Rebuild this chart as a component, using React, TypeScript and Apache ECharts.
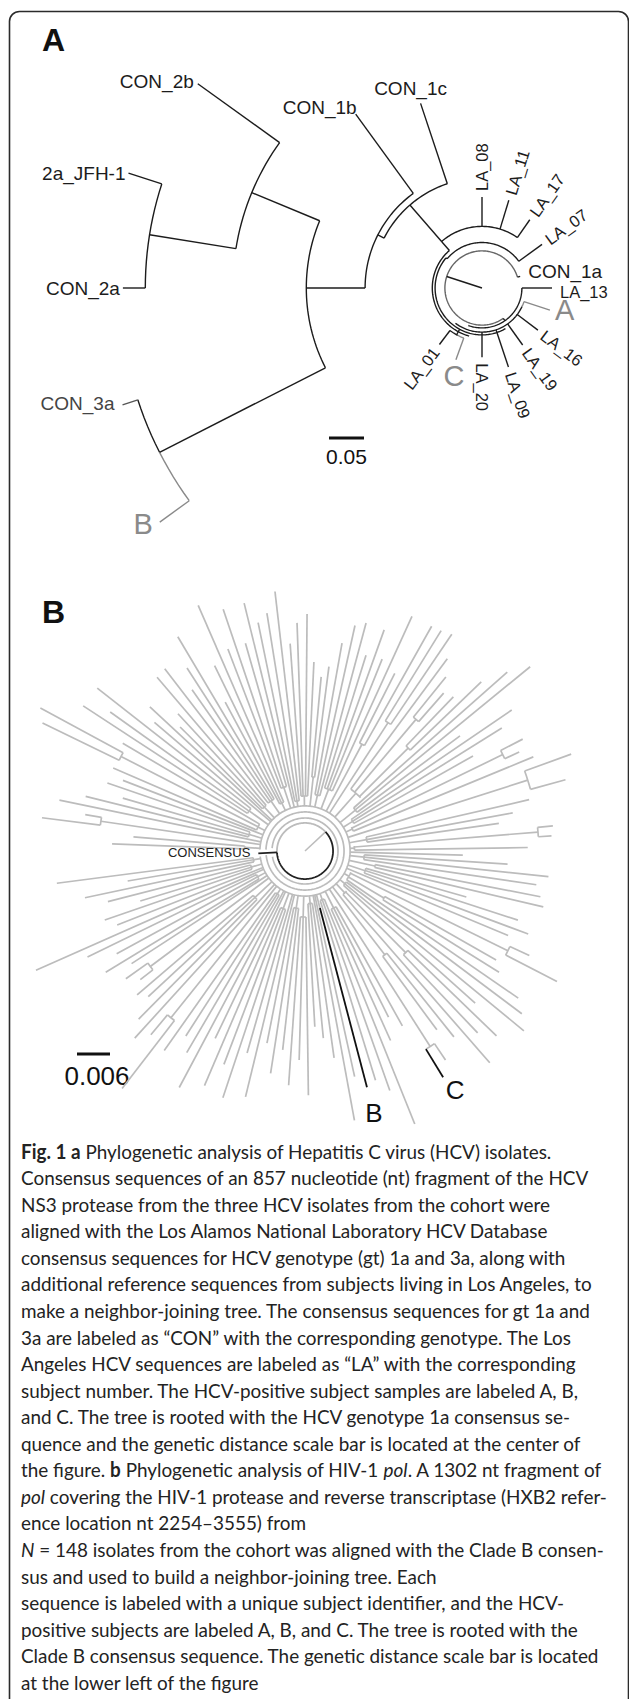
import { useEffect, useRef } from 'react';
import * as echarts from 'echarts';

const W = 629;
const H = 1699;
const FONT = '"Liberation Sans", Arial, sans-serif';
const CAP_FONT = 'Lato, "Open Sans", sans-serif';

// ---------------- Panel A : HCV NS3 tree (distance in substitutions/site, angle in degrees) -------------
const hcvLeafNames = ['CON_1a', 'LA_13', 'A', 'LA_16', 'LA_19', 'LA_09', 'LA_20', 'C', 'LA_01', 'CON_1c', 'CON_1b', 'CON_2b', '2a_JFH-1', 'CON_2a', 'CON_3a', 'B', 'LA_07', 'LA_17', 'LA_11', 'LA_08'];
const hcvLeafAngles = [17, 0, 342, 323, 305.5, 288.5, 270, 250, 233, 108.4, 126, 144.3, 162, 180, 198, 216, 36, 55, 73, 90];
const hcvLeafBase = [0.053, 0.057, 0.063, 0.063, 0.063, 0.063, 0.063, 0.076, 0.076, 0.157, 0.167, 0.356, 0.481, 0.481, 0.517, 0.517, 0.065, 0.088, 0.088, 0.088];
const hcvLeafTip = [0.057, 0.100, 0.102, 0.100, 0.100, 0.119, 0.099, 0.109, 0.101, 0.278, 0.307, 0.500, 0.531, 0.513, 0.540, 0.569, 0.106, 0.119, 0.131, 0.130];
// internal branches [angle, from, to]
const hcvInnerBranches = [
  [162, 0, 0.053], [305, 0.053, 0.057], [241.5, 0.067, 0.076], [140, 0.065, 0.067],
  [131, 0.071, 0.157], [153, 0.157, 0.167], [180, 0.167, 0.251], [157.5, 0.251, 0.356],
  [170.9, 0.356, 0.481], [207, 0.251, 0.517],
];
// internal arcs [distance, fromAngle, toAngle]
const hcvArcs = [
  [0.057, 250, 360], [0.063, 233, 335], [0.067, 140, 300], [0.071, 131, 255], [0.076, 233, 243],
  [0.065, 36, 140], [0.088, 55, 131], [0.157, 108.4, 153], [0.167, 126, 180], [0.251, 157.5, 207],
  [0.356, 144.3, 170.9], [0.481, 162, 180], [0.517, 198, 207],
];
const hcvGrayArcs = [[0.517, 207, 216], [0.063, 335, 342], [0.076, 243, 250]];
const hcvRootCircle = [0.053, 17, 305];
const hcvScale = 0.05;

// ---------------- Panel B : HIV-1 pol tree (distance x 1e-3 substitutions/site) -------------
const hivLeaves = [
  [0.9, 40.5], [3.5, 44.9], [5.8, 45.3], [8.1, 35.6], [10.4, 38.4], [12.9, 41.8], [15.3, 49.1], [20.0, 51.5],
  [22.4, 44.9], [24.8, 42.9], [27.2, 44.5], [29.5, 35.1], [32.0, 42.2], [34.3, 45.5], [36.6, 35.1], [39.3, 52.9],
  [41.5, 49.1], [43.8, 44.4], [46.1, 38.9], [48.7, 38.2], [51.0, 40.7], [53.5, 43.5], [55.9, 47.6], [58.3, 47.1],
  [60.6, 46.9], [63.2, 36.2], [65.5, 46.9], [68.1, 37.6], [70.3, 42.7], [72.7, 37.3], [75.0, 42.9], [77.5, 42.0],
  [79.9, 38.4], [82.6, 33.8], [84.7, 31.8], [87.3, 34.4], [89.5, 43.1], [92.0, 41.5], [94.1, 37.8], [96.6, 47.5],
  [99.1, 43.8], [101.6, 42.4], [103.8, 46.4], [106.0, 39.3], [108.7, 46.4], [110.9, 39.3], [113.5, 48.7], [116.0, 37.5],
  [118.2, 30.7], [120.7, 45.3], [122.8, 39.6], [125.0, 35.8], [127.6, 41.8], [130.4, 41.5], [132.8, 34.0], [135.2, 32.0],
  [137.1, 38.5], [139.5, 36.0], [141.9, 48.0], [144.5, 43.5], [146.8, 48.2], [149.4, 38.5], [151.6, 54.7], [154.0, 53.1],
  [156.6, 38.0], [158.8, 35.5], [161.0, 38.0], [163.8, 34.5], [166.0, 41.1], [168.3, 45.6], [170.6, 40.5], [172.8, 48.2],
  [175.3, 31.3], [177.9, 35.1], [187.4, 45.5], [189.6, 32.7], [192.0, 40.9], [194.4, 37.0], [196.9, 31.3], [199.0, 38.5],
  [201.5, 36.7], [203.9, 53.5], [206.0, 44.0], [208.6, 39.0], [211.3, 42.4], [213.0, 37.6], [215.5, 40.0], [218.0, 38.0],
  [220.6, 40.2], [222.9, 38.9], [225.3, 43.0], [227.7, 46.0], [230.0, 43.6], [232.4, 54.5], [234.8, 44.4], [237.2, 40.0],
  [239.6, 42.5], [242.0, 48.7], [244.4, 37.8], [246.8, 46.4], [249.2, 41.5], [251.6, 47.3], [254.0, 38.2], [256.4, 46.0],
  [258.8, 35.6], [261.2, 40.9], [263.6, 36.4], [266.0, 42.7], [268.4, 38.0], [270.8, 44.4], [273.2, 32.0], [275.6, 34.2],
  [278.0, 38.0], [280.4, 49.8], [282.4, 42.0], [287.1, 43.6], [289.5, 46.2], [291.9, 53.5], [294.3, 37.8], [296.7, 33.8],
  [299.1, 36.4], [303.9, 45.8], [306.4, 40.4], [308.7, 43.3], [311.1, 51.1], [313.5, 45.6], [316.0, 48.4], [318.2, 41.5],
  [320.6, 51.5], [323.1, 49.3], [325.4, 47.1], [328.0, 41.6], [330.3, 40.0], [332.6, 51.6], [335.0, 45.0], [337.4, 40.0],
  [339.6, 43.3], [342.0, 40.7], [344.1, 30.5], [346.8, 44.5], [349.0, 43.6], [351.7, 42.5], [354.0, 44.5], [356.3, 36.9],
  [358.5, 28.7],
];
// internal nodes [fromAngle, toAngle, node distance]
const hivClades = [
  [3.5, 5.8, 42.5], [15.3, 20.0, 42.5], [24.8, 27.2, 40.0], [43.8, 46.1, 26.5], [48.7, 51.0, 31.3],
  [55.9, 58.3, 27.8], [60.6, 63.2, 22.0], [151.6, 154.0, 37.6], [170.6, 172.8, 37.5], [215.5, 218.0, 35.1],
  [230.0, 232.4, 38.9], [301.4, 303.9, 42.2], [306.4, 308.7, 23.8], [313.5, 316.0, 26.0], [328.0, 330.3, 16.7],
  [332.6, 335.0, 41.1],
  [87.3, 94.1, 10.0], [96.6, 101.6, 9.2], [120.7, 127.6, 11.0], [141.9, 146.8, 12.5], [187.4, 192.0, 9.5],
  [258.8, 263.6, 10.5], [339.6, 344.1, 11.5], [65.5, 72.7, 12.0], [29.5, 34.3, 10.2], [206.0, 211.3, 9.8],
  [246.8, 251.6, 11.2], [318.2, 323.1, 9.4], [351.7, 356.3, 10.8], [106.0, 110.9, 12.2], [161.0, 166.0, 10.6],
  [273.2, 278.0, 9.6],
  [0.9, 5.8, 9.0], [8.1, 12.9, 11.4], [22.4, 27.2, 9.5], [36.6, 41.5, 11.8], [43.8, 53.5, 14.0],
  [75.0, 79.9, 10.4], [82.6, 84.7, 13.5], [113.5, 118.2, 9.7], [130.4, 135.2, 10.9], [149.4, 156.6, 9.6],
  [175.3, 177.9, 11.0], [194.4, 199.0, 10.2], [220.6, 225.3, 12.4], [234.8, 239.6, 9.3], [266.0, 270.8, 12.0],
  [287.1, 291.9, 9.4], [294.3, 299.1, 11.6], [311.1, 316.0, 10.5], [325.4, 335.0, 9.2], [346.8, 349.0, 13.0],
];
const hivRingArcs = [[6.0, 190, 535], [7.1, 186, 538], [8.2, 187, 538]];
const hivRingBase = 8.2;
const hivRoot = [43, 5.1]; // root branch angle, root node distance
const hivConsensus = [183, 8.5];
const hivB = [284.7, 10.7, 44.4];
const hivC = [301.4, 48.2];
const hivScale = 6;

const captionLines = [
  '{b|Fig. 1 a} Phylogenetic analysis of Hepatitis C virus (HCV) isolates.',
  'Consensus sequences of an 857 nucleotide (nt) fragment of the HCV',
  'NS3 protease from the three HCV isolates from the cohort were',
  'aligned with the Los Alamos National Laboratory HCV Database',
  'consensus sequences for HCV genotype (gt) 1a and 3a, along with',
  'additional reference sequences from subjects living in Los Angeles, to',
  'make a neighbor-joining tree. The consensus sequences for gt 1a and',
  '3a are labeled as \u201cCON\u201d with the corresponding genotype. The Los',
  'Angeles HCV sequences are labeled as \u201cLA\u201d with the corresponding',
  'subject number. The HCV-positive subject samples are labeled A, B,',
  'and C. The tree is rooted with the HCV genotype 1a consensus se-',
  'quence and the genetic distance scale bar is located at the center of',
  'the figure. {b|b} Phylogenetic analysis of HIV-1 {i|pol}. A 1302 nt fragment of',
  '{i|pol} covering the HIV-1 protease and reverse transcriptase (HXB2 refer-',
  'ence location nt 2254\u20133555) from',
  '{i|N} = 148 isolates from the cohort was aligned with the Clade B consen-',
  'sus and used to build a neighbor-joining tree. Each',
  'sequence is labeled with a unique subject identifier, and the HCV-',
  'positive subjects are labeled A, B, and C. The tree is rooted with the',
  'Clade B consensus sequence. The genetic distance scale bar is located',
  'at the lower left of the figure',
];

// ---------------- styling ----------------
const DARK = '#1c1c1c';
const MID = '#8a8a8a';
const LIGHT = '#bcbcbc';
const HCV_POLAR = { center: [482, 288], radius: 420, max: 0.6 };
const HIV_POLAR = { center: [305, 851], radius: 330, max: 60 };
const CAP_SCALE_X = 0.945;

type LabelSpec = { mode: 'radial' | 'h'; align?: string; dx?: number; dy?: number; size?: number; color?: string };
const hcvLabelSpec: Record<string, LabelSpec> = {
  CON_1a: { mode: 'h', align: 'left', dx: 8, dy: -5, size: 19 },
  LA_13: { mode: 'h', align: 'left', dx: 8, dy: 4, size: 16.5 },
  A: { mode: 'h', align: 'left', dx: 5, dy: 0, size: 29, color: MID },
  C: { mode: 'h', align: 'center', dx: -2, dy: 16, size: 29, color: MID },
  CON_1c: { mode: 'h', align: 'center', dx: -10, dy: -15, size: 19 },
  CON_1b: { mode: 'h', align: 'right', dx: 1, dy: -7, size: 19 },
  CON_2b: { mode: 'h', align: 'right', dx: -4, dy: -2, size: 19 },
  '2a_JFH-1': { mode: 'h', align: 'right', dx: -3, dy: 0, size: 19 },
  CON_2a: { mode: 'h', align: 'right', dx: -3, dy: 0, size: 19 },
  CON_3a: { mode: 'h', align: 'right', dx: -8, dy: -1, size: 19, color: '#444' },
  B: { mode: 'h', align: 'right', dx: -7, dy: 2, size: 29, color: MID },
};
const hcvLeafColor: Record<string, string> = { A: MID, B: MID, C: MID, CON_3a: '#555' };

type Item =
  | { kind: 'seg'; a: number; r0: number; r1: number; color: string; w: number }
  | { kind: 'arc'; r: number; a0: number; a1: number; color: string; w: number }
  | { kind: 'label'; a: number; r: number; text: string; spec: LabelSpec; color: string };

const norm = (a: number) => ((a % 360) + 360) % 360;

function renderer(items: Item[]) {
  return (params: any, api: any) => {
    const it = items[params.dataIndex];
    if (it.kind === 'seg') {
      const p0 = api.coord([it.r0, norm(it.a)]);
      const p1 = api.coord([it.r1, norm(it.a)]);
      return {
        type: 'line',
        shape: { x1: p0[0], y1: p0[1], x2: p1[0], y2: p1[1] },
        style: { stroke: it.color, lineWidth: it.w, fill: null },
        silent: true,
      };
    }
    if (it.kind === 'arc') {
      const n = Math.max(2, Math.ceil(Math.abs(it.a1 - it.a0) / 1.5));
      const pts: number[][] = [];
      for (let i = 0; i <= n; i++) {
        const a = it.a0 + ((it.a1 - it.a0) * i) / n;
        pts.push(api.coord([it.r, norm(a)]));
      }
      return {
        type: 'polyline',
        shape: { points: pts },
        style: { stroke: it.color, lineWidth: it.w, fill: null },
        silent: true,
      };
    }
    const spec = it.spec;
    const tip = api.coord([it.r, norm(it.a)]);
    const size = spec.size || 16.5;
    if (spec.mode === 'radial') {
      const rad = (it.a * Math.PI) / 180;
      const off = 6;
      const x = tip[0] + off * Math.cos(rad);
      const y = tip[1] - off * Math.sin(rad);
      const right = Math.cos(rad) > -1e-6;
      return {
        type: 'text',
        x,
        y,
        rotation: right ? rad : rad - Math.PI,
        style: {
          text: it.text, fill: it.color, fontSize: size, fontFamily: FONT,
          align: right ? 'left' : 'right', verticalAlign: 'middle',
        },
        silent: true,
      };
    }
    return {
      type: 'text',
      x: tip[0] + (spec.dx || 0),
      y: tip[1] + (spec.dy || 0),
      style: {
        text: it.text, fill: it.color, fontSize: size, fontFamily: FONT,
        align: spec.align || 'left', verticalAlign: 'middle',
      },
      silent: true,
    };
  };
}

function hcvItems(): Item[] {
  const items: Item[] = [];
  const w = 1.4;
  items.push({ kind: 'arc', r: hcvRootCircle[0], a0: hcvRootCircle[1], a1: hcvRootCircle[2], color: '#666', w });
  hcvArcs.forEach((a) => items.push({ kind: 'arc', r: a[0], a0: a[1], a1: a[2], color: DARK, w }));
  hcvGrayArcs.forEach((a) => items.push({ kind: 'arc', r: a[0], a0: a[1], a1: a[2], color: MID, w }));
  hcvInnerBranches.forEach((b) => items.push({ kind: 'seg', a: b[0], r0: b[1], r1: b[2], color: DARK, w }));
  hcvLeafNames.forEach((name, i) => {
    const color = hcvLeafColor[name] || DARK;
    items.push({ kind: 'seg', a: hcvLeafAngles[i], r0: hcvLeafBase[i], r1: hcvLeafTip[i], color, w });
    const spec = hcvLabelSpec[name] || { mode: 'radial', size: 16.5 };
    items.push({ kind: 'label', a: hcvLeafAngles[i], r: hcvLeafTip[i], text: name, spec, color: hcvLeafColor[name] === MID ? MID : name === 'CON_3a' ? '#444' : DARK });
  });
  return items;
}

function hivItems(): Item[] {
  const items: Item[] = [];
  const w = 1.7;
  hivRingArcs.forEach((a) => items.push({ kind: 'arc', r: a[0], a0: a[1], a1: a[2], color: LIGHT, w }));
  // root
  items.push({ kind: 'seg', a: hivRoot[0], r0: 0, r1: hivRoot[1], color: LIGHT, w: 1.5 });
  items.push({ kind: 'arc', r: hivRoot[1], a0: hivRoot[0], a1: hivConsensus[0], color: LIGHT, w: 1.8 });
  items.push({ kind: 'arc', r: hivRoot[1], a0: hivConsensus[0], a1: hivRoot[0] + 360, color: '#222', w: 1.8 });
  items.push({ kind: 'seg', a: hivConsensus[0], r0: hivRoot[1], r1: hivConsensus[1], color: '#222', w: 1.8 });
  const eps = 0.01;
  const baseOf = (ang: number) => {
    let b = hivRingBase;
    hivClades.forEach((c) => {
      if (ang >= c[0] - eps && ang <= c[1] + eps && c[2] > b) b = c[2];
    });
    return b;
  };
  hivClades.forEach((c) => {
    let parent = hivRingBase;
    hivClades.forEach((o) => {
      if (o !== c && o[0] <= c[0] + eps && o[1] >= c[1] - eps && o[2] < c[2] && o[2] > parent) parent = o[2];
    });
    const mid = (c[0] + c[1]) / 2;
    items.push({ kind: 'seg', a: mid, r0: parent, r1: c[2], color: LIGHT, w });
    items.push({ kind: 'arc', r: c[2], a0: c[0], a1: c[1], color: LIGHT, w });
  });
  hivLeaves.forEach((l) => items.push({ kind: 'seg', a: l[0], r0: baseOf(l[0]), r1: l[1], color: LIGHT, w }));
  // B
  items.push({ kind: 'seg', a: hivB[0], r0: hivRingBase, r1: hivB[1], color: LIGHT, w });
  items.push({ kind: 'seg', a: hivB[0], r0: hivB[1], r1: hivB[2], color: '#111', w: 1.8 });
  items.push({ kind: 'label', a: hivB[0], r: hivB[2], text: 'B', spec: { mode: 'h', align: 'center', dx: 7, dy: 26, size: 26 }, color: '#111' });
  // C
  items.push({ kind: 'seg', a: hivC[0], r0: baseOf(hivC[0]), r1: hivC[1], color: '#111', w: 1.8 });
  items.push({ kind: 'label', a: hivC[0], r: hivC[1], text: 'C', spec: { mode: 'h', align: 'center', dx: 12, dy: 13, size: 26 }, color: '#111' });
  items.push({ kind: 'label', a: hivConsensus[0], r: hivConsensus[1], text: 'CONSENSUS', spec: { mode: 'h', align: 'right', dx: -8, dy: -1, size: 13 }, color: '#222' });
  return items;
}

function buildOption() {
  const hcv = hcvItems();
  const hiv = hivItems();
  const hcvPxPerUnit = HCV_POLAR.radius / HCV_POLAR.max;
  const hivPxPerUnit = HIV_POLAR.radius / HIV_POLAR.max;
  const capRich = {
    b: { fontWeight: 'bold', fontSize: 20, fontFamily: CAP_FONT, fill: '#232323' },
    i: { fontStyle: 'italic', fontSize: 20, fontFamily: CAP_FONT, fill: '#232323' },
  };
  const graphic: any[] = [
    {
      type: 'rect', shape: { x: 9.5, y: 11.5, width: 619, height: 1740, r: 10 },
      style: { fill: 'none', stroke: '#2b2b2b', lineWidth: 1.6 }, silent: true,
    },
    { type: 'text', x: 42, y: 40, style: { text: 'A', fontSize: 32, fontWeight: 'bold', fontFamily: FONT, fill: '#111', verticalAlign: 'middle' } },
    { type: 'text', x: 42, y: 612, style: { text: 'B', fontSize: 32, fontWeight: 'bold', fontFamily: FONT, fill: '#111', verticalAlign: 'middle' } },
    { type: 'line', shape: { x1: 329, y1: 438, x2: 329 + hcvScale * hcvPxPerUnit, y2: 438 }, style: { stroke: '#111', lineWidth: 3 } },
    { type: 'text', x: 329 + (hcvScale * hcvPxPerUnit) / 2, y: 456, style: { text: '0.05', fontSize: 21, fontFamily: FONT, fill: '#111', align: 'center', verticalAlign: 'middle' } },
    { type: 'line', shape: { x1: 77, y1: 1054, x2: 77 + hivScale * hivPxPerUnit, y2: 1054 }, style: { stroke: '#111', lineWidth: 3 } },
    { type: 'text', x: 97, y: 1076, style: { text: '0.006', fontSize: 26, fontFamily: FONT, fill: '#111', align: 'center', verticalAlign: 'middle' } },
  ];
  captionLines.forEach((t, i) => {
    graphic.push({
      type: 'text', x: 21, y: 1151 + i * 26.55, scaleX: CAP_SCALE_X, originX: 0, originY: 0,
      style: { text: t, rich: capRich, fontSize: 20, fontFamily: CAP_FONT, fill: '#232323', verticalAlign: 'middle', align: 'left' },
      silent: true,
    });
  });
  const axisOff = { show: false, axisLine: { show: false }, axisTick: { show: false }, axisLabel: { show: false }, splitLine: { show: false } };
  return {
    animation: false,
    backgroundColor: '#ffffff',
    polar: [
      { center: HCV_POLAR.center, radius: HCV_POLAR.radius },
      { center: HIV_POLAR.center, radius: HIV_POLAR.radius },
    ],
    angleAxis: [
      { polarIndex: 0, type: 'value', min: 0, max: 360, startAngle: 0, clockwise: false, ...axisOff },
      { polarIndex: 1, type: 'value', min: 0, max: 360, startAngle: 0, clockwise: false, ...axisOff },
    ],
    radiusAxis: [
      { polarIndex: 0, type: 'value', min: 0, max: HCV_POLAR.max, ...axisOff },
      { polarIndex: 1, type: 'value', min: 0, max: HIV_POLAR.max, ...axisOff },
    ],
    series: [
      { type: 'custom', coordinateSystem: 'polar', polarIndex: 1, data: hiv.map(() => [0, 0]), renderItem: renderer(hiv), silent: true, animation: false },
      { type: 'custom', coordinateSystem: 'polar', polarIndex: 0, data: hcv.map(() => [0, 0]), renderItem: renderer(hcv), silent: true, animation: false },
    ],
    graphic,
  };
}

export default function App() {
  const ref = useRef<HTMLDivElement>(null);
  useEffect(() => {
    if (!ref.current) return;
    const chart = echarts.init(ref.current, null, { renderer: 'svg', width: W, height: H });
    chart.setOption(buildOption());
    return () => chart.dispose();
  }, []);
  return <div ref={ref} style={{ position: 'absolute', left: 0, top: 0, width: W, height: H, background: '#fff' }} />;
}
